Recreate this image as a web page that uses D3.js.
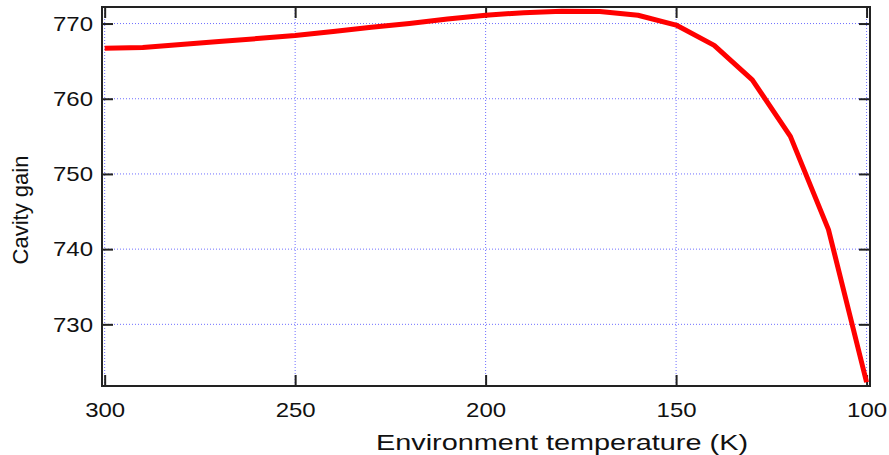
<!DOCTYPE html>
<html>
<head>
<meta charset="utf-8">
<script src="https://cdn.jsdelivr.net/npm/d3@7"></script>
<style>
  body { margin: 0; background: #fff; }
  text { font-family: "Liberation Sans", Arial, sans-serif; fill: #111; }
</style>
</head>
<body>
<div class="container"></div>
<script>
const WIDTH = 889;
const HEIGHT = 455;
const LEFT = 102, RIGHT = 870, TOP = 7, BOTTOM = 386;

const temperatures = [300, 290, 280, 270, 260, 250, 240, 230, 220, 210, 200, 190, 180, 170, 160, 150, 140, 130, 120, 110, 100];
const gains = [766.7, 766.8, 767.2, 767.6, 768.0, 768.4, 768.95, 769.5, 770.0, 770.6, 771.1, 771.45, 771.65, 771.6, 771.1, 769.8, 767.1, 762.5, 755.0, 742.6, 722.3];
const xTicks = [300, 250, 200, 150, 100];
const yTicks = [730, 740, 750, 760, 770];

var xScale = d3.scaleLinear().domain([300.7, 99.1]).range([LEFT, RIGHT]);
var yScale = d3.scaleLinear().domain([721.8, 772.2]).range([BOTTOM, TOP]);

var svg = d3.select('.container').append('svg')
    .attr('width', WIDTH)
    .attr('height', HEIGHT);

// grid
svg.append('g').selectAll('line')
    .data(xTicks).enter().append('line')
    .attr('x1', d => xScale(d)).attr('x2', d => xScale(d))
    .attr('y1', TOP).attr('y2', BOTTOM)
    .attr('stroke', '#6f6fff').attr('stroke-width', 1)
    .attr('stroke-dasharray', '1,2');

svg.append('g').selectAll('line')
    .data(yTicks).enter().append('line')
    .attr('y1', d => yScale(d)).attr('y2', d => yScale(d))
    .attr('x1', LEFT).attr('x2', RIGHT)
    .attr('stroke', '#6f6fff').attr('stroke-width', 1)
    .attr('stroke-dasharray', '1,2');

// axes, ticks pointing inward
var TICK = 11;
var xBottom = d3.axisBottom(xScale).tickValues(xTicks).tickSize(-TICK).tickPadding(16);
var xTop = d3.axisTop(xScale).tickValues(xTicks).tickSize(-TICK).tickFormat('');
var yLeft = d3.axisLeft(yScale).tickValues(yTicks).tickSize(-TICK).tickPadding(9);
var yRight = d3.axisRight(yScale).tickValues(yTicks).tickSize(-TICK).tickFormat('');

function style(g) {
    g.select('.domain').remove();
    g.selectAll('.tick line').attr('stroke', '#222').attr('stroke-width', 2);
    g.selectAll('.tick text')
        .attr('font-size', 21).attr('fill', '#111')
        .attr('font-family', '"Liberation Sans", Arial, sans-serif')
        .attr('textLength', 40).attr('lengthAdjust', 'spacingAndGlyphs');
}

svg.append('g').attr('transform', 'translate(0,' + BOTTOM + ')').call(xBottom).call(style);
svg.append('g').attr('transform', 'translate(0,' + TOP + ')').call(xTop).call(style);
svg.append('g').attr('transform', 'translate(' + LEFT + ',0)').call(yLeft).call(style);
svg.append('g').attr('transform', 'translate(' + RIGHT + ',0)').call(yRight).call(style);

// data line
var points = temperatures.map((t, i) => ({x: t, y: gains[i]}));
var line = d3.line().x(d => xScale(d.x)).y(d => yScale(d.y));
svg.append('path')
    .datum(points)
    .attr('d', line)
    .attr('fill', 'none')
    .attr('stroke', '#ff0000')
    .attr('stroke-width', 5)
    .attr('stroke-linejoin', 'round');

// frame
svg.append('rect')
    .attr('x', LEFT).attr('y', TOP)
    .attr('width', RIGHT - LEFT).attr('height', BOTTOM - TOP)
    .attr('fill', 'none').attr('stroke', '#222').attr('stroke-width', 2);

// titles
svg.append('text')
    .attr('x', 562).attr('y', 450)
    .attr('text-anchor', 'middle').attr('font-size', 22)
    .attr('textLength', 372).attr('lengthAdjust', 'spacingAndGlyphs')
    .text('Environment temperature (K)');

svg.append('text')
    .attr('transform', 'translate(28,210) rotate(-90)')
    .attr('text-anchor', 'middle').attr('font-size', 22)
    .text('Cavity gain');
</script>
</body>
</html>
